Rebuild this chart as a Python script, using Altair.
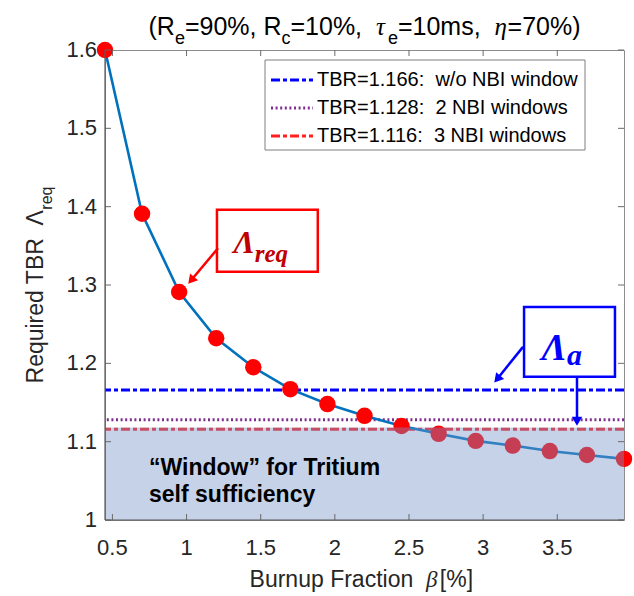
import altair as alt
import pandas as pd

# Burnup fraction beta (%) and the required tritium breeding ratio at each point
beta = [0.45, 0.70, 0.95, 1.20, 1.45, 1.70, 1.95, 2.20, 2.45, 2.70, 2.95, 3.20, 3.45, 3.70, 3.95]
tbr_req = [1.600, 1.391, 1.291, 1.232, 1.195, 1.167, 1.148, 1.133, 1.120, 1.110,
           1.101, 1.095, 1.088, 1.083, 1.078]

# Achievable TBR for each NBI port configuration
tbr_avail = [1.166, 1.128, 1.116]
tbr_labels = ["TBR=1.166:\u00a0 w/o NBI window", "TBR=1.128:\u00a0 2 NBI windows",
              "TBR=1.116:\u00a0 3 NBI windows"]
tbr_colors = ["#0000ff", "#7e2f8e", "#ff1f1f"]
tbr_dashes = [[9, 3, 4, 3], [2, 2.6], [9, 3, 4, 3]]

x_ticks = [0.5, 1.0, 1.5, 2.0, 2.5, 3.0, 3.5]
x_tick_labels = ["0.5", "1", "1.5", "2", "2.5", "3", "3.5"]
y_ticks = [1.0, 1.1, 1.2, 1.3, 1.4, 1.5, 1.6]
y_tick_labels = ["1", "1.1", "1.2", "1.3", "1.4", "1.5", "1.6"]
x_range = [0.45, 3.95]
y_range = [1.0, 1.6]
window_top = 1.118  # upper edge of the self-sufficiency band

W, H = 519, 470
SANS = "Liberation Sans"
SERIF = "Liberation Serif"
INK = "#262626"
NB = "\u00a0"

xs = alt.Scale(domain=x_range, nice=False, zero=False)
ys = alt.Scale(domain=y_range, nice=False, zero=False)

# Advance widths (1/1000 em) for laying out mixed-style text runs
ADV = {" ": 278, NB: 278, "(": 333, ")": 333, "%": 889, ",": 278, ".": 278, "=": 584, "[": 278,
       "]": 278, "R": 722, "T": 611, "B": 667, "F": 611, "Λ": 667, "e": 556, "c": 500, "m": 833,
       "s": 500, "q": 556, "u": 556, "i": 222, "r": 333, "d": 556, "n": 556, "p": 556, "a": 556,
       "t": 278, "o": 556, "τ": 480, "η": 520, "β": 600}


def adv(s, size):
    return sum(ADV.get(ch, 556) for ch in s) * size / 1000.0


one = pd.DataFrame({"k": [0]})


def txt(text, x, y, size, font=SANS, style="normal", weight="normal", color=INK,
        align="left", baseline="alphabetic", angle=0):
    return alt.Chart(one).mark_text(
        text=text, font=font, fontSize=size, fontStyle=style, fontWeight=weight,
        color=color, align=align, baseline=baseline, angle=angle,
    ).encode(x=x, y=y)


def dx(v):
    return alt.XDatum(v, type="quantitative", scale=xs, axis=None)


def dy(v):
    return alt.YDatum(v, type="quantitative", scale=ys, axis=None)


curve_df = pd.DataFrame({"beta": beta, "tbr": tbr_req})
levels_df = pd.DataFrame({"tbr": tbr_avail, "label": tbr_labels})
xt = pd.DataFrame({"t": x_ticks, "lab": x_tick_labels})
yt = pd.DataFrame({"t": y_ticks, "lab": y_tick_labels})

levels = alt.Chart(levels_df).mark_rule(strokeWidth=3).encode(
    y=alt.Y("tbr:Q", scale=ys, axis=None),
    color=alt.Color("label:N", scale=alt.Scale(domain=tbr_labels, range=tbr_colors), legend=None),
    strokeDash=alt.StrokeDash("label:N", scale=alt.Scale(domain=tbr_labels, range=tbr_dashes), legend=None),
)

curve = alt.Chart(curve_df).mark_line(color="#0072bd", strokeWidth=2.6).encode(
    x=alt.X("beta:Q", scale=xs, axis=None),
    y=alt.Y("tbr:Q", scale=ys, axis=None),
)
dots = alt.Chart(curve_df).mark_circle(size=270, color="#ff0000", opacity=1).encode(
    x=alt.X("beta:Q", scale=xs, axis=None),
    y=alt.Y("tbr:Q", scale=ys, axis=None),
)

# Shaded band below the achievable TBR
band = alt.Chart(one).mark_rect(color="#7593c8", opacity=0.42).encode(
    x=dx(x_range[0]), x2=alt.X2Datum(x_range[1]),
    y=dy(y_range[0]), y2=alt.Y2Datum(window_top),
)

# Inward tick marks on all four sides, plus tick labels
tick_col = "#6a6a6a"
ticks = [
    alt.Chart(xt).mark_rule(color=tick_col).encode(
        x=alt.X("t:Q", scale=xs, axis=None), y=alt.value(H), y2=alt.value(H - 6)),
    alt.Chart(xt).mark_rule(color=tick_col).encode(
        x=alt.X("t:Q", scale=xs, axis=None), y=alt.value(0), y2=alt.value(6)),
    alt.Chart(yt).mark_rule(color=tick_col).encode(
        y=alt.Y("t:Q", scale=ys, axis=None), x=alt.value(0), x2=alt.value(6)),
    alt.Chart(yt).mark_rule(color=tick_col).encode(
        y=alt.Y("t:Q", scale=ys, axis=None), x=alt.value(W - 6), x2=alt.value(W)),
    alt.Chart(xt).mark_text(font=SANS, fontSize=22, color=INK, align="center", baseline="top").encode(
        x=alt.X("t:Q", scale=xs, axis=None), y=alt.value(H + 18), text="lab:N"),
    alt.Chart(yt).mark_text(font=SANS, fontSize=22, color=INK, align="right", baseline="middle").encode(
        y=alt.Y("t:Q", scale=ys, axis=None), x=alt.value(-8), text="lab:N"),
    # left and bottom axis lines
    alt.Chart(one).mark_rule(color="#5a5a5a", strokeWidth=1.2).encode(
        x=alt.value(0), y=alt.value(0), y2=alt.value(H)),
    alt.Chart(one).mark_rule(color="#5a5a5a", strokeWidth=1.2).encode(
        x=alt.value(0), x2=alt.value(W), y=alt.value(H)),
]

# Legend box
legend = [
    alt.Chart(one).mark_rect(fill="white", stroke="#7f7f7f", strokeWidth=1).encode(
        x=alt.value(160), x2=alt.value(480), y=alt.value(10), y2=alt.value(100)),
]
for i, (lab, col, dash) in enumerate(zip(tbr_labels, tbr_colors, tbr_dashes)):
    ry = 30 + 28 * i
    legend.append(alt.Chart(one).mark_rule(color=col, strokeWidth=3, strokeDash=dash).encode(
        x=alt.value(166), x2=alt.value(208), y=alt.value(ry)))
    legend.append(txt(lab, alt.value(212), alt.value(ry), 20, color="black", baseline="middle"))

# Callout for the required TBR curve
red = "#ff0000"
callouts = [
    alt.Chart(one).mark_rect(fill="white", stroke=red, strokeWidth=2.5).encode(
        x=dx(1.205), x2=alt.X2Datum(1.885), y=dy(1.396), y2=alt.Y2Datum(1.317)),
    txt("Λ", dx(1.46), dy(1.341), 32, font=SERIF, style="italic", weight="bold",
        color="#c00000", align="right"),
    txt("req", dx(1.46), dy(1.329), 25, font=SERIF, style="italic", weight="bold",
        color="#c00000"),
    alt.Chart(one).mark_rule(color=red, strokeWidth=2.5).encode(
        x=dx(1.212), y=dy(1.347), x2=alt.X2Datum(1.031), y2=alt.Y2Datum(1.306)),
    alt.Chart(one).mark_point(shape="triangle-up", filled=True, size=110, angle=220,
                              color=red, opacity=1).encode(x=dx(1.031), y=dy(1.306)),
]

# Callout for the achievable TBR
blue = "#0000ff"
callouts += [
    alt.Chart(one).mark_rect(fill="white", stroke=blue, strokeWidth=2.5).encode(
        x=dx(3.276), x2=alt.X2Datum(3.889), y=dy(1.272), y2=alt.Y2Datum(1.183)),
    txt("Λ", dx(3.565), dy(1.204), 38, font=SERIF, style="italic", weight="bold",
        color=blue, align="right"),
    txt("a", dx(3.565), dy(1.198), 30, font=SERIF, style="italic", weight="bold", color=blue),
    alt.Chart(one).mark_rule(color=blue, strokeWidth=2.5).encode(
        x=dx(3.269), y=dy(1.221), x2=alt.X2Datum(3.095), y2=alt.Y2Datum(1.180)),
    alt.Chart(one).mark_point(shape="triangle-up", filled=True, size=110, angle=220,
                              color=blue, opacity=1).encode(x=dx(3.095), y=dy(1.180)),
    alt.Chart(one).mark_rule(color=blue, strokeWidth=2.5).encode(
        x=dx(3.633), y=dy(1.183), y2=alt.Y2Datum(1.126)),
    alt.Chart(one).mark_point(shape="triangle-up", filled=True, size=110, angle=180,
                              color=blue, opacity=1).encode(x=dx(3.633), y=dy(1.126)),
]

# Band caption
caption = [
    txt("\u201cWindow\u201d for Tritium", dx(0.747), dy(1.057), 23, weight="bold", color="black"),
    txt("self sufficiency", dx(0.747), dy(1.023), 23, weight="bold", color="black"),
]

# Title with subscripts, laid out run by run and centred over the plot
MAIN, SUB = 25, 18
runs = [("(R", "n"), ("e", "s"), ("=90%, R", "n"), ("c", "s"), ("=10%," + NB + NB, "n"),
        ("τ", "g"), ("e", "s"), ("=10ms," + NB + NB, "n"), ("η", "g"), ("=70%)", "n")]
sizes = {"n": MAIN, "s": SUB, "g": MAIN}
total = sum(adv(t, sizes[k]) for t, k in runs)
cx = W / 2 - total / 2
title = []
for t, k in runs:
    if k == "s":
        title.append(txt(t, alt.value(cx), alt.value(-6), SUB, color="black"))
    elif k == "g":
        title.append(txt(t, alt.value(cx), alt.value(-15), MAIN, font=SERIF, style="italic",
                         color="black"))
    else:
        title.append(txt(t, alt.value(cx), alt.value(-15), MAIN, color="black"))
    cx += adv(t, sizes[k])

# x-axis title
AX = 23
xruns = [("Burnup Fraction" + NB + NB, "n"), ("β", "g"), (NB + "[%]", "n")]
xtotal = sum(adv(t, AX) for t, _ in xruns)
cx = W / 2 - xtotal / 2
xtitle = []
for t, k in xruns:
    if k == "g":
        xtitle.append(txt(t, alt.value(cx), alt.value(537), AX, font=SERIF, style="italic"))
    else:
        xtitle.append(txt(t, alt.value(cx), alt.value(537), AX))
    cx += adv(t, AX)

# y-axis title, rotated, with subscript
ymain = "Required TBR" + NB + NB + "Λ"
ysub = 16
ytotal = adv(ymain, AX) + adv("req", ysub)
cy = H / 2 + ytotal / 2
ytitle = [
    txt(ymain, alt.value(-62), alt.value(cy), AX, angle=270),
    txt("req", alt.value(-53), alt.value(cy - adv(ymain, AX)), ysub, angle=270),
]

chart = alt.layer(
    levels, curve, dots, band, *ticks, *legend, *callouts, *caption, *title, *xtitle, *ytitle
).properties(
    width=W, height=H,
    padding={"left": 105, "top": 50, "right": 10, "bottom": 76},
    autosize=alt.AutoSizeParams(type="none"),
).configure_view(stroke="#8c8c8c", strokeWidth=1)

chart.save("out.html", embed_options={"renderer": "svg", "actions": False})
